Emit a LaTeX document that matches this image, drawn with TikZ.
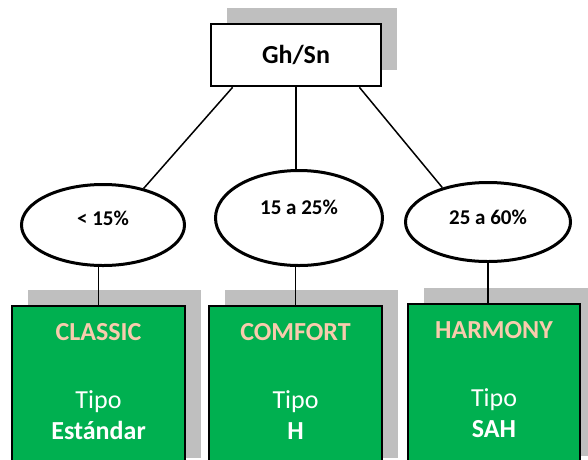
\documentclass[tikz,border=0pt]{standalone}
\usepackage{fontspec}
\setmainfont{Carlito}
\usepackage{tikz}
\usetikzlibrary{shapes.geometric,shadows,calc}

\definecolor{boxgreen}{HTML}{00B050}
\definecolor{peach}{HTML}{F8CBAD}
\definecolor{shadowgray}{HTML}{BFBFBF}

\tikzset{
  shd/.style={drop shadow={shadow xshift=16pt, shadow yshift=16pt, opacity=1, fill=shadowgray}},
  topbox/.style={draw, line width=2.6pt, fill=white, shd, minimum width=170, minimum height=62,
    font=\fontsize{26}{30}\selectfont\bfseries},
  rng/.style={ellipse, draw, line width=3pt, fill=white},
  rngtxt/.style={font=\fontsize{21}{24}\selectfont\bfseries},
  prod/.style={draw, line width=2pt, fill=boxgreen, shd, minimum width=173, minimum height=168},
  ttl/.style={font=\fontsize{26}{30}\selectfont\bfseries, text=peach, text height=17pt, text depth=5pt},
  typ/.style={font=\fontsize{26}{30}\selectfont, text=white, text height=17pt, text depth=5pt},
  ln/.style={line width=1.5pt}
}

\begin{document}
\begin{tikzpicture}[x=1pt, y=-1pt]
  \useasboundingbox (0,0) rectangle (588,459);
  \clip (0,0) rectangle (588,459);

  % root
  \node[topbox] (gh) at (296,55) {Gh/Sn};

  % ranges
  \node[rng, minimum width=163, minimum height=81,
        label={[rngtxt, yshift=7pt]center:{< 15\%}}] (lo) at (103,225) {};
  \node[rng, minimum width=167, minimum height=95,
        label={[rngtxt, yshift=11pt]center:{15 a 25\%}}] (md) at (299,218) {};
  \node[rng, minimum width=165, minimum height=79,
        label={[rngtxt, yshift=5pt]center:{25 a 60\%}}] (rt) at (488,222) {};

  % products
  \node[prod] (c1) at (98.5,390) {};
  \node[prod] (c2) at (295.5,390) {};
  \node[prod, minimum width=172] (c3) at (494,388) {};

  \foreach \b/\n/\t in {c1/CLASSIC/Estándar, c2/COMFORT/H, c3/HARMONY/SAH} {
    \node[ttl] (\b-n) at ([yshift=-29pt]\b.north) {\n};
    \node[typ] (\b-tipo) at ([yshift=-97pt]\b.north) {Tipo};
    \node[typ, font=\fontsize{26}{30}\selectfont\bfseries] (\b-t) at ([yshift=-128pt]\b.north) {\t};
  }

  % connectors
  \draw[ln] (gh.-153) -- (lo.42);
  \draw[ln] (gh.south) -- (gh.south |- md.north);
  \draw[ln] (gh.-27) -- (rt.143);
  \draw[ln] (c1.north) -- (c1.north |- lo.south);
  \draw[ln] (c2.north) -- (c2.north |- md.south);
  \draw[ln] (rt.south) -- (rt.south |- c3.north);
\end{tikzpicture}
\end{document}
